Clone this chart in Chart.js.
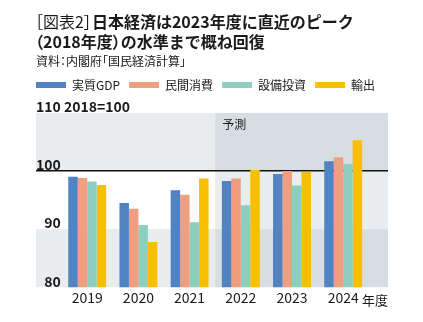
<!DOCTYPE html>
<html>
<head>
<meta charset="utf-8">
<script src="https://cdn.jsdelivr.net/npm/chart.js@4"></script>
<style>
  html, body { margin: 0; padding: 0; background: #fff; }
  #wrap { position: relative; width: 423px; height: 322px; overflow: hidden; }
  canvas { position: absolute; left: 0; top: 0; }
  .hdr { position: absolute; left: 36px; font-family: "Noto Sans CJK JP", sans-serif; color: #1a1a1a; white-space: nowrap; }
  .p { font-feature-settings: "palt"; }
  .r { font-weight: 400; }
  #title { top: 11px; left: 35px; font-size: 16px; line-height: 20px; font-weight: 700; }
  #source { top: 54px; font-size: 12px; line-height: 14px; font-weight: 400; }
</style>
</head>
<body>
<div id="wrap">
  <canvas id="c" width="423" height="322"></canvas>
  <div class="hdr" id="title"><span class="r"><span class="p">［</span>図表2<span class="p">］</span></span>日本経済は2023年度に直近のピーク<br><span class="p">（</span>2018年度<span class="p">）</span>の水準まで概ね回復</div>
  <div class="hdr" id="source">資料<span class="p">：</span>内閣府<span class="p">「</span>国民経済計算<span class="p">」</span></div>
</div>
<script>
// ---- data ----
const years = [2019, 2020, 2021, 2022, 2023, 2024];
const seriesNames = ['実質GDP', '民間消費', '設備投資', '輸出'];
const gdp         = [99.0, 94.5, 96.7, 98.3, 99.5, 101.7];
const consumption = [98.8, 93.5, 95.9, 98.7, 100.0, 102.4];
const investment  = [98.2, 90.7, 91.2, 94.1, 97.5, 101.2];
const exportsVals = [97.6, 87.8, 98.7, 100.2, 99.9, 105.3];
const yTicks = [80, 90, 100, 110];
const forecastFrom = 2022;
const unitText = '110 2018=100';
const forecastText = '予測';
const xUnitText = '年度';

const colors = ['#5182c2', '#f09f7e', '#8ecec0', '#f8bf00'];
const FONT = '"Noto Sans CJK JP", sans-serif';

const backgroundPlugin = {
  id: 'bands',
  beforeDraw(chart) {
    const {ctx, chartArea: a, scales: {x, y}} = chart;
    const fx = x.getPixelForValue(forecastFrom - 0.5);
    const bands = [
      {from: 100, to: 110, base: '#e9ecef', fc: '#d6dde3'},
      {from: 90, to: 100, base: '#ffffff', fc: '#e9edf0'},
      {from: 80, to: 90, base: '#e9ecef', fc: '#d6dde3'}
    ];
    ctx.save();
    bands.forEach(b => {
      const top = y.getPixelForValue(b.to), bot = y.getPixelForValue(b.from);
      ctx.fillStyle = b.base;
      ctx.fillRect(a.left, top, fx - a.left, bot - top);
      ctx.fillStyle = b.fc;
      ctx.fillRect(fx, top, a.right - fx, bot - top);
    });
    ctx.fillStyle = '#1a1a1a';
    ctx.font = '12px ' + FONT;
    ctx.textAlign = 'left';
    ctx.textBaseline = 'middle';
    ctx.fillText(forecastText, fx + 7, a.top + 11);
    ctx.restore();
  }
};

new Chart(document.getElementById('c'), {
  type: 'bar',
  data: {
    labels: years,
    datasets: [gdp, consumption, investment, exportsVals].map((d, i) => ({
      label: seriesNames[i],
      data: d,
      backgroundColor: colors[i],
      borderWidth: 0,
      categoryPercentage: 0.74,
      barPercentage: 1.0
    }))
  },
  options: {
    responsive: false,
    animation: false,
    devicePixelRatio: 1,
    layout: { padding: { left: 27, right: 35, top: 70, bottom: 14 } },
    plugins: {
      legend: {
        display: true,
        position: 'top',
        align: 'start',
        labels: {
          boxWidth: 30,
          boxHeight: 6,
          padding: 9,
          color: '#1a1a1a',
          font: { family: FONT, size: 12 }
        }
      },
      subtitle: {
        display: true,
        text: unitText,
        align: 'start',
        fullSize: false,
        weight: 500,
        color: '#1a1a1a',
        font: { family: FONT, size: 14, weight: 'bold', lineHeight: 0.857 },
        padding: { top: 0, bottom: 0 }
      },
      title: { display: false },
      tooltip: { enabled: false }
    },
    scales: {
      x: {
        type: 'linear',
        min: years[0] - 1,
        max: years[years.length - 1] + 0.875,
        offset: false,
        afterBuildTicks: s => { s.ticks = years.map(v => ({value: v})); },
        grid: { display: false, drawTicks: false, offset: false },
        border: { display: false },
        ticks: {
          autoSkip: false,
          maxRotation: 0,
          padding: 2,
          color: '#1a1a1a',
          font: { family: FONT, size: 14, lineHeight: 1.2 },
          callback: v => String(v)
        },
        title: {
          display: true,
          text: xUnitText,
          align: 'end',
          color: '#1a1a1a',
          font: { family: FONT, size: 13, lineHeight: 1.2 },
          padding: { top: -15.6, bottom: 0 }
        }
      },
      y: {
        min: yTicks[0],
        max: yTicks[yTicks.length - 1],
        afterFit: s => { s.width = 9; },
        afterBuildTicks: s => { s.ticks = yTicks.map(v => ({value: v})); },
        border: { display: false },
        grid: {
          drawTicks: false,
          color: c => (c.tick && c.tick.value === 100) ? '#111111' : 'rgba(0,0,0,0)',
          lineWidth: 1.5
        },
        ticks: {
          mirror: true,
          crossAlign: 'far',
          padding: 0,
          labelOffset: -6,
          color: '#1a1a1a',
          font: { family: FONT, size: 14, weight: 'bold' },
          callback: v => v === yTicks[yTicks.length - 1] ? '' : String(v)
        }
      }
    }
  },
  plugins: [backgroundPlugin]
});
</script>
</body>
</html>
